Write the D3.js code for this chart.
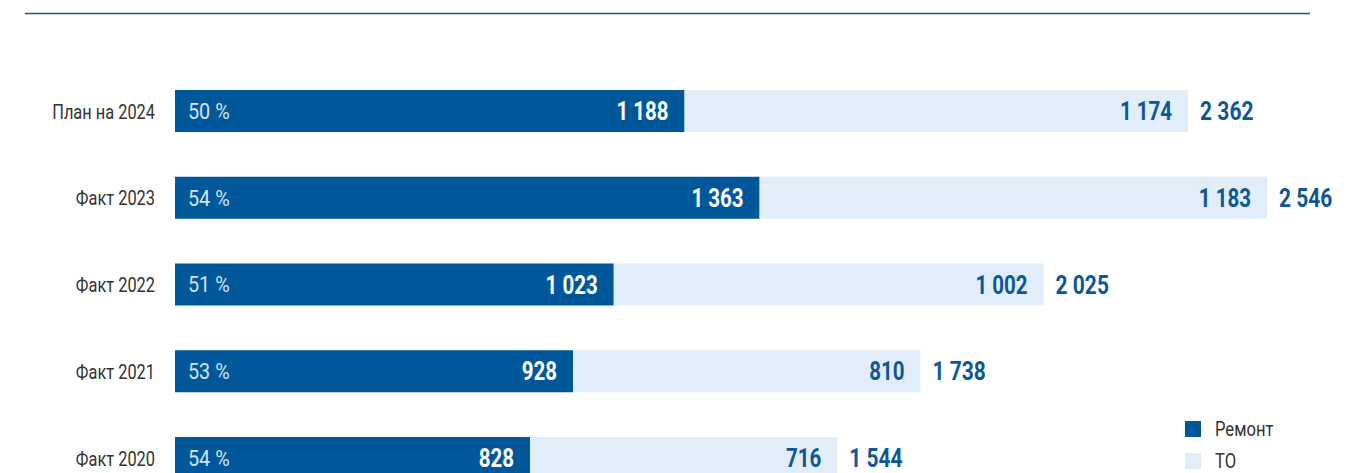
<!DOCTYPE html>
<html><head><meta charset="utf-8">
<script src="https://cdn.jsdelivr.net/npm/d3@7/dist/d3.min.js"></script>
<style>
html,body{margin:0;padding:0;background:#fff;}
svg{display:block;}
text{font-family:"Roboto","Liberation Sans",sans-serif;}
</style></head>
<body>
<svg id="chart" width="1363" height="473"></svg>
<script>
const categories = ["План на 2024","Факт 2023","Факт 2022","Факт 2021","Факт 2020"];
const repair = [1188,1363,1023,928,828];
const maintenance = [1174,1183,1002,810,716];
const totals = [2362,2546,2025,1738,1544];
const shares = [50,54,51,53,54];
const legendLabels = ["Ремонт","ТО"];

const darkBlue = "#00589b", lightBlue = "#e1eefa", textBlue = "#0e5796";
const svg = d3.select("#chart");
const loc = d3.formatLocale({decimal:",", thousands:"\u00a0", grouping:[3], currency:["",""]});
const fmt = loc.format(",d");

const x = d3.scaleLinear().domain([0, 2546]).range([175, 1267]);
const y = d3.scalePoint().domain(categories).range([111, 458]);
const bh = 42;

svg.append("line").attr("x1",25).attr("x2",1310).attr("y1",13.5).attr("y2",13.5)
  .attr("stroke","#1f5389").attr("stroke-width",1.3);

const rows = categories.map((c,i)=>({c, r:repair[i], m:maintenance[i], t:totals[i], s:shares[i]}));
const g = svg.selectAll("g.row").data(rows).join("g").attr("class","row");

g.append("rect").attr("x",d=>x(0)).attr("y",d=>y(d.c)-bh/2).attr("width",d=>x(d.r)-x(0)).attr("height",bh).attr("fill",darkBlue);
g.append("rect").attr("x",d=>x(d.r)).attr("y",d=>y(d.c)-bh/2).attr("width",d=>x(d.r+d.m)-x(d.r)).attr("height",bh).attr("fill",lightBlue);

function label(sel, fx, opts){
  const t = sel.append("g").attr("transform",d=>`translate(${fx(d)},${y(d.c)}) scale(${opts.sx},1)`)
    .append("text").attr("dy","0.36em").attr("font-size",opts.size).attr("fill",opts.fill)
    .attr("text-anchor",opts.anchor||"start");
  if (opts.bold) t.attr("font-weight","bold");
  t.text(opts.text);
}
label(g, d=>155, {size:21, sx:0.78, fill:"#333", anchor:"end", text:d=>d.c});
label(g, d=>188, {size:22, sx:0.9, fill:"#d3e4f5", text:d=>d.s+" %"});
label(g, d=>x(d.r)-16, {size:25, sx:0.82, fill:"#fff", anchor:"end", bold:true, text:d=>fmt(d.r)});
label(g, d=>x(d.r+d.m)-16, {size:25, sx:0.82, fill:textBlue, anchor:"end", bold:true, text:d=>fmt(d.m)});
label(g, d=>x(d.t)+12, {size:25, sx:0.84, fill:textBlue, bold:true, text:d=>fmt(d.t)});

const lg = svg.selectAll("g.leg").data(legendLabels).join("g").attr("class","leg")
  .attr("transform",(d,i)=>`translate(1185,${421+i*32})`);
lg.append("rect").attr("width",16).attr("height",16).attr("fill",(d,i)=>i?lightBlue:darkBlue);
lg.append("g").attr("transform",`translate(30,8) scale(0.79,1)`).append("text")
  .attr("dy","0.35em").attr("font-size",21).attr("fill","#333").text(d=>d);
</script>
</body></html>
